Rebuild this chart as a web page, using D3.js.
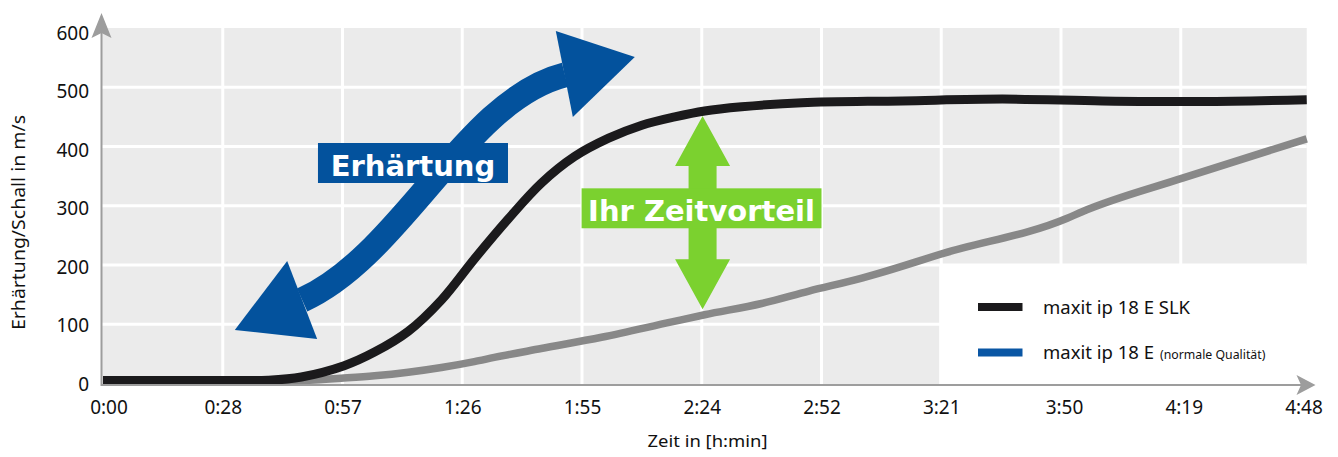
<!DOCTYPE html>
<html><head><meta charset="utf-8">
<script src="https://cdn.jsdelivr.net/npm/d3@7"></script>
<style>
html,body{margin:0;padding:0;background:#fff;}
svg{display:block;}
text{font-family:"Noto Sans",sans-serif;fill:#111;}
</style></head>
<body>
<svg id="chart" width="1338" height="457"></svg>
<script>
// ---- data ----
const tickMinutes = [0, 28.8, 57.6, 86.4, 115.2, 144, 172.8, 201.6, 230.4, 259.2, 288];
const tickLabels = ["0:00","0:28","0:57","1:26","1:55","2:24","2:52","3:21","3:50","4:19","4:48"];
const yTicks = [0, 100, 200, 300, 400, 500, 600];

// maxit ip 18 E SLK (black)
const slkMinutes = [0, 20, 34, 39.7, 47.7, 58.0, 65.3, 73.4, 81.4, 89.3, 97.5, 105.4, 113.4, 121.6, 129.6, 137.5, 144.7, 153.6, 168.1, 192.2, 216.3, 240.3, 264.4, 289.5];
const slkValues  = [5, 5, 5, 5.5, 11, 30, 53, 88, 141, 210, 278, 338, 383, 414, 436, 450, 460, 467, 474, 477, 480, 477, 476, 479];

// maxit ip 18 E normale Qualität (grey)
const normMinutes = [35.6, 47.7, 57.3, 65.3, 73.4, 81.4, 89.3, 94.1, 105.4, 119.9, 136.8, 144.7, 158.4, 169.8, 182.5, 186.1, 202.3, 231.9, 235.5, 259.8, 289.5];
const normValues  = [2, 5, 9, 13, 19, 27, 37, 44, 59, 78, 104, 116, 135, 156, 178, 185, 220, 279, 290, 347, 413];

const seriesNames = ["maxit ip 18 E SLK", "maxit ip 18 E"];
const seriesNote = "(normale Qualität)";

// annotation anchors (data units: minutes, m/s)
const blueShaft = [[47.9,140.9],[71.9,216.9],[87.1,478.5],[111.1,520.7]]; // start, ctrl1, ctrl2, end
const blueHeadUpper = [[127.9,551.1],[108.9,595.0],[113.0,449.8]];
const blueHeadLower = [[31.7,90.3],[44.3,206.8],[51.5,75.1]];
const blueBox = {x0:51.7, x1:97.4, y0:338.4, y1:405.9, label:"Erhärtung"};
const greenBox = {x0:115.1, x1:172.8, y0:262.0, y1:329.4, label:"Ihr Zeitvorteil"};
const greenArrow = {x:144.2, top:451.5, headTop:367.1, headBottom:209.6, bottom:125.2};
const legendArea = {x0:201.6, y1:200};

const xEnd = 289.5;

// ---- scales ----
const x = d3.scaleLinear().domain([0, 288]).range([103, 1300.5]);
const y = d3.scaleLinear().domain([0, 600]).range([383.5, 28]);
const yLab = d3.scaleLinear().domain([0, 600]).range([384, 33.3]);

const svg = d3.select("#chart");
const BLUE = "#03529d", GREEN = "#7bd12f";

// background
svg.append("rect").attr("x", 101.5).attr("y", y(600)).attr("width", x(xEnd) - 101.5).attr("height", 385 - y(600)).attr("fill", "#ebebeb");

// grid
svg.append("g").selectAll("line").data(yTicks.filter(d => d > 0 && d < 600)).join("line")
  .attr("x1", 102).attr("x2", x(xEnd)).attr("y1", d => y(d)).attr("y2", d => y(d))
  .attr("stroke", "#fff").attr("stroke-width", 3);
svg.append("g").selectAll("line").data(tickMinutes.filter(d => d > 0 && d < 288)).join("line")
  .attr("x1", d => x(d)).attr("x2", d => x(d)).attr("y1", y(600)).attr("y2", 385)
  .attr("stroke", "#fff").attr("stroke-width", 3);

// legend area (white)
svg.append("rect").attr("x", x(legendArea.x0) - 2).attr("y", y(legendArea.y1))
  .attr("width", x(xEnd) - x(legendArea.x0) + 3).attr("height", 385 - y(legendArea.y1)).attr("fill", "#fff");

// blue double arrow
const bp = d3.path();
const P = blueShaft.map(p => [x(p[0]), y(p[1])]);
bp.moveTo(P[0][0], P[0][1]);
bp.bezierCurveTo(P[1][0], P[1][1], P[2][0], P[2][1], P[3][0], P[3][1]);
svg.append("path").attr("d", bp.toString()).attr("fill", "none").attr("stroke", BLUE).attr("stroke-width", 25);
[blueHeadUpper, blueHeadLower].forEach(h => {
  svg.append("path").attr("d", "M" + h.map(p => x(p[0]) + "," + y(p[1])).join("L") + "Z").attr("fill", BLUE);
});
svg.append("rect").attr("x", x(blueBox.x0)).attr("y", y(blueBox.y1)).attr("width", x(blueBox.x1) - x(blueBox.x0)).attr("height", y(blueBox.y0) - y(blueBox.y1)).attr("fill", BLUE);
svg.append("text").attr("x", (x(blueBox.x0) + x(blueBox.x1)) / 2).attr("y", y(blueBox.y0) - 6.5)
  .attr("text-anchor", "middle").style("font-family", "DejaVu Sans").style("font-weight", "bold").style("font-size", "29px")
  .style("fill", "#fff").text(blueBox.label);

// grey series
const lineX = d3.line().x(d => x(d[0])).y(d => y(d[1])).curve(d3.curveMonotoneX);
const lineC = d3.line().x(d => x(d[0])).y(d => y(d[1])).curve(d3.curveCatmullRom.alpha(0.5));
svg.append("path").attr("d", lineX(normMinutes.map((m, i) => [m, normValues[i]])))
  .attr("fill", "none").attr("stroke", "#888888").attr("stroke-width", 7.5);
// black series
svg.append("path").attr("d", lineC(slkMinutes.map((m, i) => [m, slkValues[i]])))
  .attr("fill", "none").attr("stroke", "#1b1a1c").attr("stroke-width", 9);

// green double arrow
const gx = x(greenArrow.x);
const sw = 14, hw = 27.5;
const gp = [
  [gx, y(greenArrow.top)], [gx + hw, y(greenArrow.headTop)], [gx + sw, y(greenArrow.headTop)],
  [gx + sw, y(greenArrow.headBottom)], [gx + hw, y(greenArrow.headBottom)], [gx, y(greenArrow.bottom)],
  [gx - hw, y(greenArrow.headBottom)], [gx - sw, y(greenArrow.headBottom)], [gx - sw, y(greenArrow.headTop)],
  [gx - hw, y(greenArrow.headTop)]
];
svg.append("path").attr("d", "M" + gp.map(p => p.join(",")).join("L") + "Z").attr("fill", GREEN);
svg.append("rect").attr("x", x(greenBox.x0)).attr("y", y(greenBox.y1)).attr("width", x(greenBox.x1) - x(greenBox.x0)).attr("height", y(greenBox.y0) - y(greenBox.y1)).attr("fill", GREEN);
svg.append("text").attr("x", (x(greenBox.x0) + x(greenBox.x1)) / 2).attr("y", y(greenBox.y0) - 7.5)
  .attr("text-anchor", "middle").style("font-family", "DejaVu Sans").style("font-weight", "bold").style("font-size", "29px")
  .style("fill", "#fff").text(greenBox.label);

// axes lines with arrows
const AX = "#9d9d9d";
svg.append("line").attr("x1", 101.5).attr("x2", 101.5).attr("y1", 386).attr("y2", 30).attr("stroke", AX).attr("stroke-width", 2);
svg.append("line").attr("x1", 101).attr("x2", 1302).attr("y1", 385).attr("y2", 385).attr("stroke", AX).attr("stroke-width", 2);
svg.append("path").attr("d", "M101.5,13L111.5,38L101.5,33L91.5,38Z").attr("fill", AX);
svg.append("path").attr("d", "M1315.5,385L1296.5,395L1301,385L1296.5,375Z").attr("fill", AX);

// x axis labels
const xAxis = d3.axisBottom(x).tickValues(tickMinutes).tickFormat((d, i) => tickLabels[i]).tickSize(0);
const gX = svg.append("g").attr("transform", "translate(0,385)").call(xAxis);
gX.select(".domain").remove();
gX.selectAll("text").attr("y", 29).attr("dy", null).style("font-family", "Noto Sans").style("font-size", "19px").style("fill", "#111")
  .attr("dx", (d, i) => i === 0 ? 5.5 : (i >= 8 ? 3 : 0));

// y axis labels
const yAxis = d3.axisLeft(yLab).tickValues(yTicks).tickSize(0).tickFormat(d3.format("d"));
const gY = svg.append("g").attr("transform", "translate(89,0)").call(yAxis);
gY.select(".domain").remove();
gY.selectAll("text").attr("x", 0).style("font-family", "Noto Sans").style("font-size", "19px").style("fill", "#111");

// axis titles
svg.append("text").attr("x", 707.5).attr("y", 447).attr("text-anchor", "middle")
  .style("font-size", "17px").attr("textLength", 120).attr("lengthAdjust", "spacingAndGlyphs").text("Zeit in [h:min]");
svg.append("text").attr("transform", "translate(25,222.5) rotate(-90)").attr("text-anchor", "middle")
  .style("font-size", "18px").attr("textLength", 215).attr("lengthAdjust", "spacingAndGlyphs").text("Erhärtung/Schall in m/s");

// legend
const legColors = ["#1b1a1c", "#0a56a4"];
const legY = [307, 352.5];
legY.forEach((ly, i) => {
  svg.append("line").attr("x1", 978).attr("x2", 1022.5).attr("y1", ly).attr("y2", ly).attr("stroke", legColors[i]).attr("stroke-width", 8);
});
svg.append("text").attr("x", 1043).attr("y", legY[0] + 6.5).style("font-size", "18.5px").text(seriesNames[0]);
const t2 = svg.append("text").attr("x", 1043).attr("y", legY[1] + 6.5).style("font-size", "18.5px");
t2.append("tspan").text(seriesNames[1]);
t2.append("tspan").attr("dx", 6).style("font-size", "12.3px").text(seriesNote);
</script>
</body></html>
